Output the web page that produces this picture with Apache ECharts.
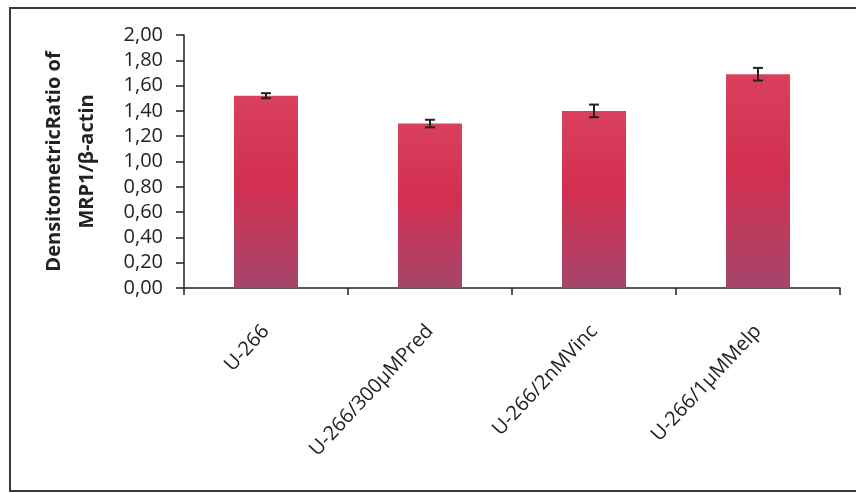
<!DOCTYPE html>
<html>
<head>
<meta charset="utf-8">
<script src="https://cdn.jsdelivr.net/npm/echarts@6/dist/echarts.min.js"></script>
<style>
  html, body { margin: 0; padding: 0; background: #fff; }
  #chart { width: 856px; height: 493px; }
</style>
</head>
<body>
<div id="chart"></div>
<script>
// Cell lines / treatments
const categories = ['U-266', 'U-266/300\u03bcMPred', 'U-266/2nMVinc', 'U-266/1\u03bcMMelp'];
// Mean MRP1/β-actin densitometric ratio
const ratioValues = [1.52, 1.30, 1.40, 1.69];
// Standard error for each bar
const ratioErrors = [0.02, 0.03, 0.05, 0.05];
// Y-axis tick labels (decimal comma)
const yTicks = ['0,00', '0,20', '0,40', '0,60', '0,80', '1,00', '1,20', '1,40', '1,60', '1,80', '2,00'];

const chart = echarts.init(document.getElementById('chart'));

const barFill = new echarts.graphic.LinearGradient(0, 0, 0, 1, [
  { offset: 0, color: '#d9405e' },
  { offset: 0.45, color: '#d32f50' },
  { offset: 1, color: '#a4456a' }
]);

chart.setOption({
  animation: false,
  backgroundColor: '#ffffff',
  graphic: [{
    type: 'rect',
    shape: { x: 10, y: 8, width: 860, height: 483 },
    style: { fill: 'none', stroke: '#3a3a3a', lineWidth: 2 },
    silent: true
  }],
  grid: { left: 184, top: 35, right: 16, bottom: 205, containLabel: false },
  xAxis: {
    type: 'category',
    data: categories,
    axisLine: { lineStyle: { color: '#222', width: 1.5 } },
    axisTick: { show: true, length: 7, alignWithLabel: false, lineStyle: { color: '#222', width: 1.5 } },
    axisLabel: {
      rotate: 47,
      margin: 40,
      color: '#222',
      fontFamily: 'Open Sans',
      fontSize: 20
    }
  },
  yAxis: {
    type: 'value',
    min: 0,
    max: 2,
    interval: 0.2,
    name: 'DensitometricRatio of\nMRP1/\u03b2-actin',
    nameLocation: 'middle',
    nameRotate: 90,
    nameGap: 80,
    nameTextStyle: {
      color: '#222',
      fontFamily: 'Open Sans',
      fontWeight: 'bold',
      fontSize: 20,
      lineHeight: 33
    },
    splitLine: { show: false },
    axisLine: { show: true, lineStyle: { color: '#222', width: 1.5 } },
    axisTick: { show: true, length: 8, lineStyle: { color: '#222', width: 1.5 } },
    axisLabel: {
      margin: 21,
      color: '#222',
      fontFamily: 'Open Sans',
      fontSize: 20,
      formatter: function (v) { return yTicks[Math.round(v / 0.2)]; }
    }
  },
  series: [
    {
      type: 'bar',
      data: ratioValues,
      barWidth: '39%',
      itemStyle: { color: barFill }
    },
    {
      type: 'custom',
      data: ratioValues.map(function (v, i) { return [i, v - ratioErrors[i], v + ratioErrors[i]]; }),
      z: 10,
      renderItem: function (params, api) {
        const lo = api.coord([api.value(0), api.value(1)]);
        const hi = api.coord([api.value(0), api.value(2)]);
        const half = 5;
        const style = { stroke: '#222', lineWidth: 2 };
        return {
          type: 'group',
          children: [
            { type: 'line', shape: { x1: hi[0], y1: hi[1], x2: lo[0], y2: lo[1] }, style: style },
            { type: 'line', shape: { x1: hi[0] - half, y1: hi[1], x2: hi[0] + half, y2: hi[1] }, style: style },
            { type: 'line', shape: { x1: lo[0] - half, y1: lo[1], x2: lo[0] + half, y2: lo[1] }, style: style }
          ]
        };
      }
    }
  ]
});
</script>
</body>
</html>
